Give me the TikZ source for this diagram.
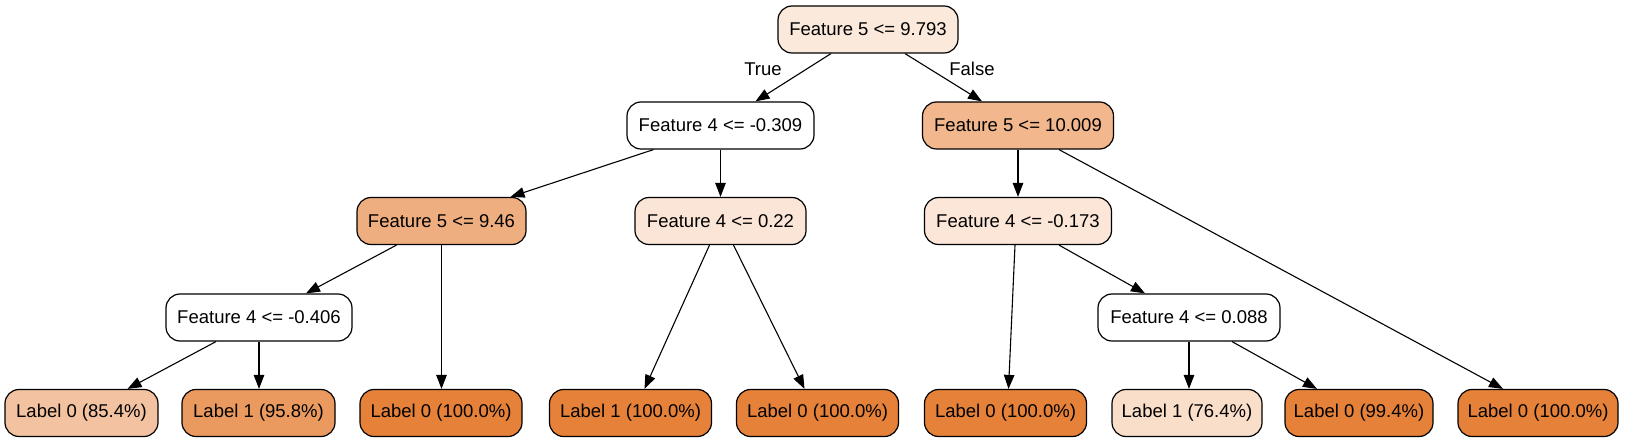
\documentclass[tikz,border=0pt]{standalone}
\usepackage{fontspec}
\setmainfont{Liberation Sans}
\usetikzlibrary{arrows.meta,calc}
\definecolor{cRoot}{HTML}{FBE9DC}
\definecolor{cA}{HTML}{F2B78C}
\definecolor{cB}{HTML}{EFAE7F}
\definecolor{cC}{HTML}{FBE5D6}
\definecolor{cD}{HTML}{FBE6D8}
\definecolor{cE}{HTML}{F3C3A1}
\definecolor{cF}{HTML}{EB9A5F}
\definecolor{cOr}{HTML}{E58139}
\definecolor{cG}{HTML}{F9DECA}
\tikzset{
  box/.style={draw, rounded corners=14pt, line width=1.2pt, minimum height=47pt,
    inner sep=0pt, font=\fontsize{18.5}{22}\selectfont},
  edge/.style={line width=1.1pt, -{Triangle[length=14pt,width=10.5pt]}},
  elab/.style={font=\fontsize{18.5}{22}\selectfont, inner sep=0pt}
}
\begin{document}
\begin{tikzpicture}[x=1pt,y=-1pt]
\useasboundingbox (0,0) rectangle (1636,443);
% nodes
\node[box, fill=cRoot, minimum width=180pt] (r) at (868,29.5) {Feature 5 <= 9.793};
\node[box, fill=white, minimum width=187pt] (a) at (720.5,125.5) {Feature 4 <= -0.309};
\node[box, fill=cA, minimum width=191pt] (b) at (1018,125.5) {Feature 5 <= 10.009};
\node[box, fill=cB, minimum width=169pt] (c) at (441.5,221) {Feature 5 <= 9.46};
\node[box, fill=cC, minimum width=171pt] (d) at (720.5,221) {Feature 4 <= 0.22};
\node[box, fill=cD, minimum width=187pt] (e) at (1018,221) {Feature 4 <= -0.173};
\node[box, fill=white, minimum width=186pt] (f) at (259,317.5) {Feature 4 <= -0.406};
\node[box, fill=white, minimum width=182pt] (g) at (1189,317.5) {Feature 4 <= 0.088};
\node[box, fill=cE, minimum width=153pt] (l1) at (81.5,413) {Label 0 (85.4\%)};
\node[box, fill=cF, minimum width=153pt] (l2) at (258.5,413) {Label 1 (95.8\%)};
\node[box, fill=cOr, minimum width=162pt] (l3) at (441,413) {Label 0 (100.0\%)};
\node[box, fill=cOr, minimum width=162pt] (l4) at (630.5,413) {Label 1 (100.0\%)};
\node[box, fill=cOr, minimum width=162pt] (l5) at (817.5,413) {Label 0 (100.0\%)};
\node[box, fill=cOr, minimum width=162pt] (l6) at (1005.5,413) {Label 0 (100.0\%)};
\node[box, fill=cG, minimum width=150pt] (l7) at (1187,413) {Label 1 (76.4\%)};
\node[box, fill=cOr, minimum width=148pt] (l8) at (1359,413) {Label 0 (99.4\%)};
\node[box, fill=cOr, minimum width=160pt] (l9) at (1538,413) {Label 0 (100.0\%)};
% edges
\draw[edge] ($(r.south)+(-37,0)$) -- ($(a.north)+(35,0)$);
\draw[edge] ($(r.south)+(37,0)$) -- ($(b.north)+(-36,0)$);
\draw[edge] ($(a.south)+(-67,0)$) -- ($(c.north)+(69,0)$);
\draw[edge] (a.south) -- (a.south |- d.north);
\draw[edge] ($(c.south)+(-45,0)$) -- ($(f.north)+(47,0)$);
\draw[edge] (c.south) -- (c.south |- l3.north);
\draw[edge] ($(f.south)+(-43,0)$) -- ($(l1.north)+(46,0)$);
\draw[edge] (f.south) -- (f.south |- l2.north);
\draw[edge] ($(d.south)+(-11,0)$) -- ($(l4.north)+(14,0)$);
\draw[edge] ($(d.south)+(13,0)$) -- ($(l5.north)+(-13,0)$);
\draw[edge] (b.south) -- (b.south |- e.north);
\draw[edge] ($(b.south)+(41,0)$) -- ($(l9.north)+(-35,0)$);
\draw[edge] ($(e.south)+(-3,0)$) -- ($(l6.north)+(3,0)$);
\draw[edge] ($(e.south)+(41,0)$) -- ($(g.north)+(-44,0)$);
\draw[edge] (g.south) -- (g.south |- l7.north);
\draw[edge] ($(g.south)+(43,0)$) -- ($(l8.north)+(-42,0)$);
% edge labels
\node[elab] (tl) at (763,69) {True};
\node[elab] (fl) at (972,69) {False};
\end{tikzpicture}
\end{document}
